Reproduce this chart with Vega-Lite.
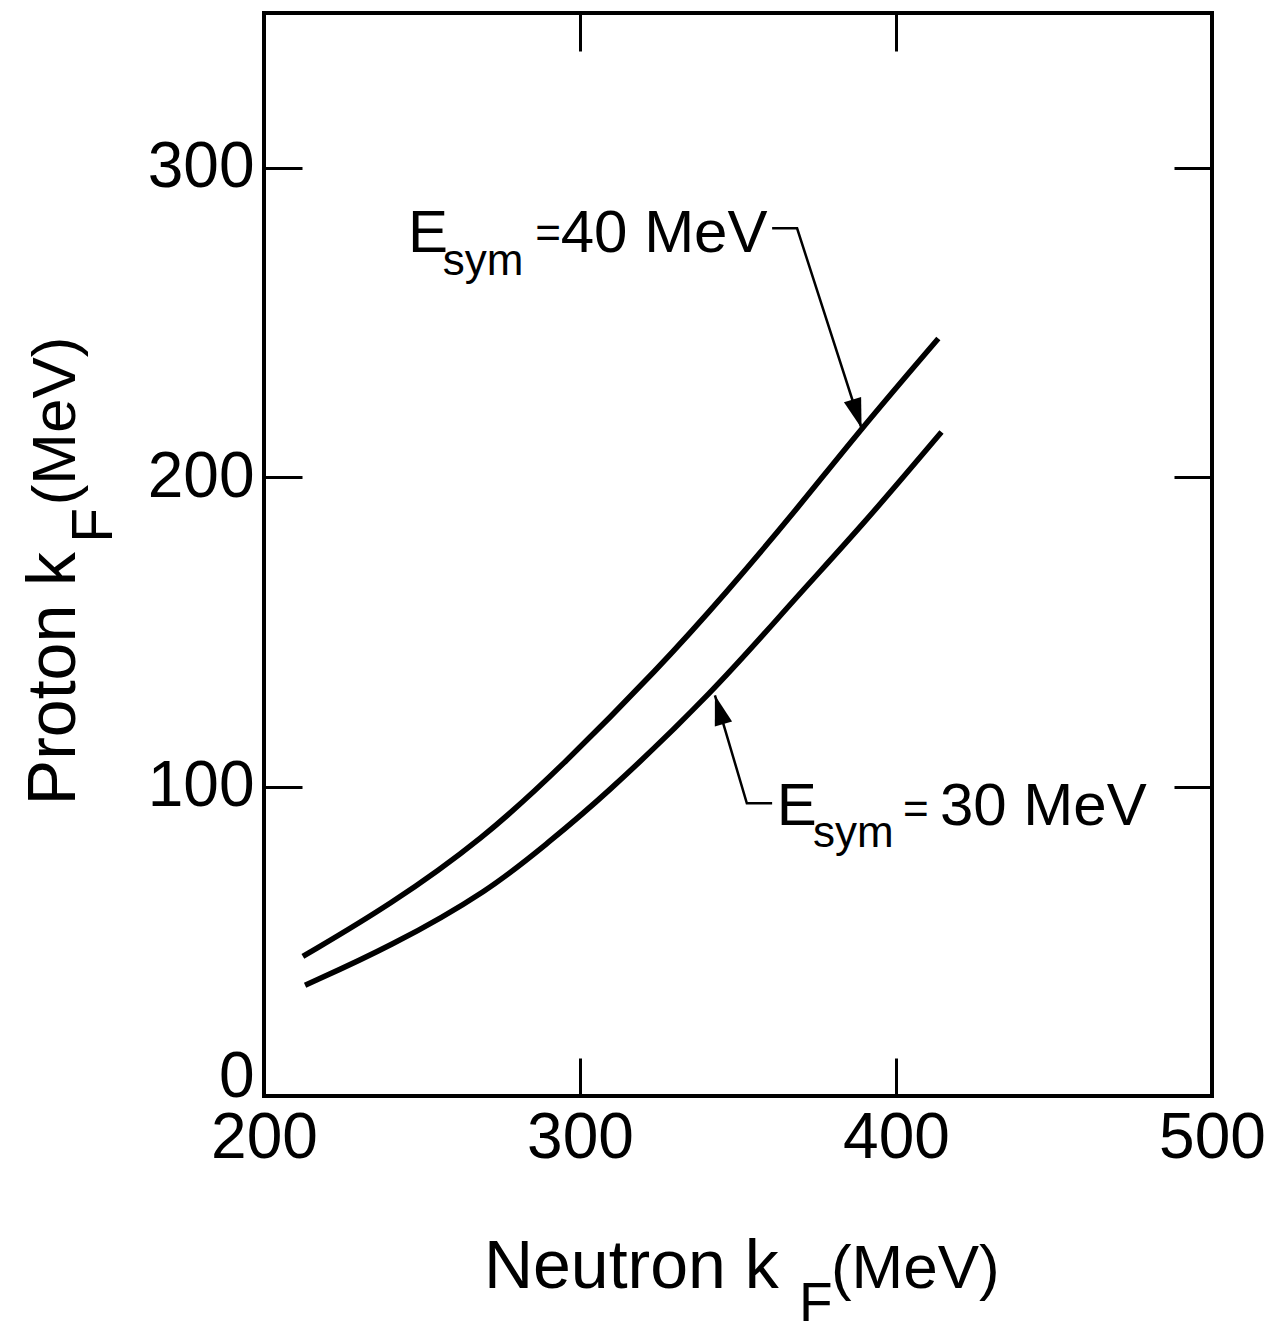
{
  "$schema": "https://vega.github.io/schema/vega-lite/v6.json",
  "width": 948,
  "height": 1083,
  "autosize": {"type": "none"},
  "padding": {"left": 264, "top": 13, "right": 58, "bottom": 232},
  "background": "white",
  "config": {
    "view": {"stroke": "black", "strokeWidth": 4},
    "axis": {
      "grid": false,
      "domain": false,
      "tickColor": "black",
      "tickWidth": 3,
      "tickSize": -38,
      "labelFont": "Liberation Sans",
      "labelFontSize": 64,
      "labelColor": "black",
      "labelFlush": false,
      "labelOverlap": false,
      "labelPadding": 48
    },
    "text": {"font": "Liberation Sans", "color": "black"}
  },
  "datasets": {
    "curves": [
      {"series": "40", "kn": 212.3, "kp": 45.1},
      {"series": "40", "kn": 239.9, "kp": 61.7},
      {"series": "40", "kn": 269.4, "kp": 83.2},
      {"series": "40", "kn": 293.7, "kp": 106.0},
      {"series": "40", "kn": 325.3, "kp": 138.7},
      {"series": "40", "kn": 346.4, "kp": 162.8},
      {"series": "40", "kn": 367.5, "kp": 188.2},
      {"series": "40", "kn": 388.6, "kp": 215.2},
      {"series": "40", "kn": 413.4, "kp": 244.8},
      {"series": "30", "kn": 213.0, "kp": 35.8},
      {"series": "30", "kn": 239.9, "kp": 48.2},
      {"series": "30", "kn": 271.5, "kp": 66.5},
      {"series": "30", "kn": 290.0, "kp": 82.0},
      {"series": "30", "kn": 306.3, "kp": 95.6},
      {"series": "30", "kn": 342.7, "kp": 131.1},
      {"series": "30", "kn": 367.5, "kp": 160.2},
      {"series": "30", "kn": 388.6, "kp": 183.5},
      {"series": "30", "kn": 414.4, "kp": 214.6}
    ],
    "leaders": [
      {"id": "40", "seq": 1, "kn": 360.8, "kp": 280.4},
      {"id": "40", "seq": 2, "kn": 368.7, "kp": 280.4},
      {"id": "40", "seq": 3, "kn": 389.1, "kp": 215.8},
      {"id": "30", "seq": 1, "kn": 360.8, "kp": 94.6},
      {"id": "30", "seq": 2, "kn": 352.8, "kp": 94.6},
      {"id": "30", "seq": 3, "kn": 342.7, "kp": 129.5}
    ],
    "arrows": [
      {"id": "40", "kn": 389.1, "kp": 215.8},
      {"id": "30", "kn": 342.7, "kp": 129.5}
    ],
    "labels": [
      {"kind": "ann", "text": "E", "kn": 245.6, "kp": 272.7},
      {"kind": "sub", "text": "sym", "kn": 256.6, "kp": 265.3},
      {"kind": "eq", "text": "=", "kn": 285.8, "kp": 274.0},
      {"kind": "ann", "text": "40 MeV", "kn": 293.9, "kp": 272.7},
      {"kind": "ann", "text": "E", "kn": 362.3, "kp": 87.5},
      {"kind": "sub", "text": "sym", "kn": 373.7, "kp": 80.4},
      {"kind": "eq", "text": "=", "kn": 402.2, "kp": 87.8},
      {"kind": "ann", "text": "30 MeV", "kn": 413.9, "kp": 87.5},
      {"kind": "xt", "text": "Neutron k", "kn": 269.6, "kp": -62.2},
      {"kind": "xs", "text": "F", "kn": 369.3, "kp": -72.6},
      {"kind": "xu", "text": "(MeV)", "kn": 379.4, "kp": -62.2},
      {"kind": "yt", "text": "Proton k", "kn": 140.2, "kp": 94.0},
      {"kind": "ys", "text": "F", "kn": 151.9, "kp": 178.8},
      {"kind": "yu", "text": "(MeV)", "kn": 140.2, "kp": 190.9}
    ]
  },
  "layer": [
    {
      "data": {"name": "curves"},
      "mark": {"type": "line", "color": "black", "strokeWidth": 5.5, "interpolate": "basis"},
      "encoding": {
        "x": {"field": "kn", "type": "quantitative", "scale": {"domain": [200, 500], "nice": false, "zero": false},
              "axis": {"orient": "bottom", "values": [200, 300, 400, 500], "title": null, "format": "d"}},
        "y": {"field": "kp", "type": "quantitative", "scale": {"domain": [0, 350], "nice": false, "zero": false},
              "axis": {"orient": "left", "values": [0, 100, 200, 300], "title": null, "format": "d",
                       "labelBaseline": {"condition": {"test": "datum.value == 0", "value": "alphabetic"}, "value": "middle"}}},
        "detail": {"field": "series"}
      }
    },
    {
      "data": {"name": "leaders"},
      "mark": {"type": "line", "color": "black", "strokeWidth": 2.5},
      "encoding": {
        "x": {"field": "kn", "type": "quantitative", "scale": {"domain": [200, 500], "nice": false, "zero": false},
              "axis": {"orient": "top", "values": [300, 400], "labels": false, "title": null}},
        "y": {"field": "kp", "type": "quantitative", "scale": {"domain": [0, 350], "nice": false, "zero": false},
              "axis": {"orient": "right", "values": [100, 200, 300], "labels": false, "title": null}},
        "detail": {"field": "id"},
        "order": {"field": "seq"}
      }
    },
    {
      "data": {"name": "arrows"},
      "transform": [{"filter": "datum.id == '40'"}],
      "mark": {"type": "point", "shape": "M0,0 L-0.3,-1 L0.3,-1 Z", "filled": true, "color": "black", "size": 3600, "angle": 342.5, "opacity": 1},
      "encoding": {
        "x": {"field": "kn", "type": "quantitative", "scale": {"domain": [200, 500], "nice": false, "zero": false}, "axis": null},
        "y": {"field": "kp", "type": "quantitative", "scale": {"domain": [0, 350], "nice": false, "zero": false}, "axis": null}
      }
    },
    {
      "data": {"name": "arrows"},
      "transform": [{"filter": "datum.id == '30'"}],
      "mark": {"type": "point", "shape": "M0,0 L-0.3,-1 L0.3,-1 Z", "filled": true, "color": "black", "size": 3600, "angle": 163.5, "opacity": 1},
      "encoding": {
        "x": {"field": "kn", "type": "quantitative", "scale": {"domain": [200, 500], "nice": false, "zero": false}, "axis": null},
        "y": {"field": "kp", "type": "quantitative", "scale": {"domain": [0, 350], "nice": false, "zero": false}, "axis": null}
      }
    },
    {
      "data": {"name": "labels"},
      "transform": [{"filter": "datum.kind == 'ann'"}],
      "mark": {"type": "text", "fontSize": 60, "align": "left", "baseline": "alphabetic"},
      "encoding": {
        "x": {"field": "kn", "type": "quantitative", "scale": {"domain": [200, 500], "nice": false, "zero": false}, "axis": null},
        "y": {"field": "kp", "type": "quantitative", "scale": {"domain": [0, 350], "nice": false, "zero": false}, "axis": null},
        "text": {"field": "text"}
      }
    },
    {
      "data": {"name": "labels"},
      "transform": [{"filter": "datum.kind == 'sub'"}],
      "mark": {"type": "text", "fontSize": 44, "align": "left", "baseline": "alphabetic"},
      "encoding": {
        "x": {"field": "kn", "type": "quantitative", "scale": {"domain": [200, 500], "nice": false, "zero": false}, "axis": null},
        "y": {"field": "kp", "type": "quantitative", "scale": {"domain": [0, 350], "nice": false, "zero": false}, "axis": null},
        "text": {"field": "text"}
      }
    },
    {
      "data": {"name": "labels"},
      "transform": [{"filter": "datum.kind == 'eq'"}],
      "mark": {"type": "text", "fontSize": 44, "align": "left", "baseline": "alphabetic"},
      "encoding": {
        "x": {"field": "kn", "type": "quantitative", "scale": {"domain": [200, 500], "nice": false, "zero": false}, "axis": null},
        "y": {"field": "kp", "type": "quantitative", "scale": {"domain": [0, 350], "nice": false, "zero": false}, "axis": null},
        "text": {"field": "text"}
      }
    },
    {
      "data": {"name": "labels"},
      "transform": [{"filter": "datum.kind == 'xt'"}],
      "mark": {"type": "text", "fontSize": 68, "align": "left", "baseline": "alphabetic"},
      "encoding": {
        "x": {"field": "kn", "type": "quantitative", "scale": {"domain": [200, 500], "nice": false, "zero": false}, "axis": null},
        "y": {"field": "kp", "type": "quantitative", "scale": {"domain": [0, 350], "nice": false, "zero": false}, "axis": null},
        "text": {"field": "text"}
      }
    },
    {
      "data": {"name": "labels"},
      "transform": [{"filter": "datum.kind == 'xs'"}],
      "mark": {"type": "text", "fontSize": 55, "align": "left", "baseline": "alphabetic"},
      "encoding": {
        "x": {"field": "kn", "type": "quantitative", "scale": {"domain": [200, 500], "nice": false, "zero": false}, "axis": null},
        "y": {"field": "kp", "type": "quantitative", "scale": {"domain": [0, 350], "nice": false, "zero": false}, "axis": null},
        "text": {"field": "text"}
      }
    },
    {
      "data": {"name": "labels"},
      "transform": [{"filter": "datum.kind == 'xu'"}],
      "mark": {"type": "text", "fontSize": 62, "align": "left", "baseline": "alphabetic"},
      "encoding": {
        "x": {"field": "kn", "type": "quantitative", "scale": {"domain": [200, 500], "nice": false, "zero": false}, "axis": null},
        "y": {"field": "kp", "type": "quantitative", "scale": {"domain": [0, 350], "nice": false, "zero": false}, "axis": null},
        "text": {"field": "text"}
      }
    },
    {
      "data": {"name": "labels"},
      "transform": [{"filter": "datum.kind == 'yt'"}],
      "mark": {"type": "text", "fontSize": 68, "align": "left", "baseline": "alphabetic", "angle": 270},
      "encoding": {
        "x": {"field": "kn", "type": "quantitative", "scale": {"domain": [200, 500], "nice": false, "zero": false}, "axis": null},
        "y": {"field": "kp", "type": "quantitative", "scale": {"domain": [0, 350], "nice": false, "zero": false}, "axis": null},
        "text": {"field": "text"}
      }
    },
    {
      "data": {"name": "labels"},
      "transform": [{"filter": "datum.kind == 'ys'"}],
      "mark": {"type": "text", "fontSize": 57, "align": "left", "baseline": "alphabetic", "angle": 270},
      "encoding": {
        "x": {"field": "kn", "type": "quantitative", "scale": {"domain": [200, 500], "nice": false, "zero": false}, "axis": null},
        "y": {"field": "kp", "type": "quantitative", "scale": {"domain": [0, 350], "nice": false, "zero": false}, "axis": null},
        "text": {"field": "text"}
      }
    },
    {
      "data": {"name": "labels"},
      "transform": [{"filter": "datum.kind == 'yu'"}],
      "mark": {"type": "text", "fontSize": 62, "align": "left", "baseline": "alphabetic", "angle": 270},
      "encoding": {
        "x": {"field": "kn", "type": "quantitative", "scale": {"domain": [200, 500], "nice": false, "zero": false}, "axis": null},
        "y": {"field": "kp", "type": "quantitative", "scale": {"domain": [0, 350], "nice": false, "zero": false}, "axis": null},
        "text": {"field": "text"}
      }
    }
  ],
  "resolve": {"axis": {"x": "independent", "y": "independent"}}
}
